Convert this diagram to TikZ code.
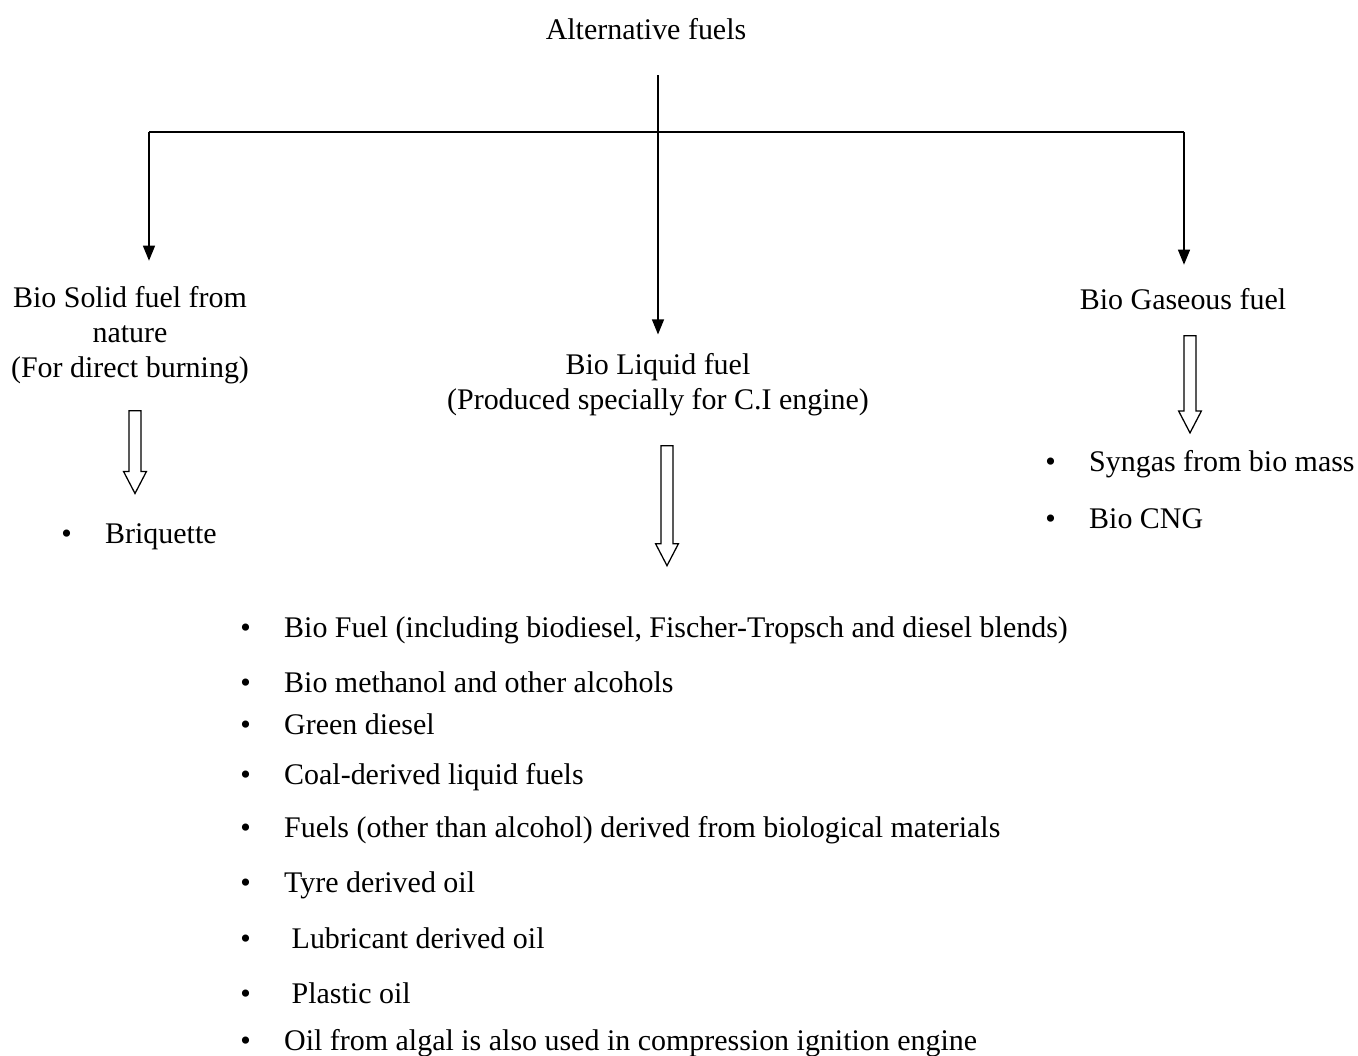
\documentclass[tikz,border=0pt]{standalone}
\usepackage{fontspec}
\setmainfont{Liberation Serif}
\usetikzlibrary{arrows.meta, shapes.arrows}
\newcommand{\itm}[1]{\makebox[0.73cm][l]{\textbullet}#1}
\def\trunkX{658}
\def\barY{132}

\begin{document}
\begin{tikzpicture}[
  x=0.01667cm, y=-0.01667cm,
  font=\fontsize{14.2}{16.5}\selectfont,
  cat/.style    = {align=center, inner sep=0pt},
  item/.style   = {anchor=west, inner sep=0pt},
  feed/.style   = {-{Triangle[length=2.5mm, width=2mm]}, semithick},
  hollow/.style = {draw, semithick, single arrow, rotate=-90, anchor=tail,
                   inner sep=0.09cm, single arrow head extend=0.09cm,
                   single arrow tip angle=55},
]
\useasboundingbox (0,0) rectangle (1358,1055);

% ---------- root and the three fuel groups ----------
\node[cat] (root)    at (646,29)  {Alternative fuels};
\node[cat] (solid)   at (130,335) {Bio Solid fuel from\\nature\\(For direct burning)};
\node[cat] (liquid)  at (658,385) {Bio Liquid fuel\\(Produced specially for C.I engine)};
\node[cat] (gaseous) at (1183,299) {Bio Gaseous fuel};

% ---------- branching connectors ----------
\coordinate (top)  at (\trunkX,75);
\coordinate (barL) at (149,\barY);
\coordinate (barR) at (1184,\barY);
\draw[semithick] (barL) -- (barR);
\draw[feed, shorten >=9pt]  (top) -- (top |- liquid.north);
\draw[feed, shorten >=12pt] (barL) -- (barL |- solid.north);
\draw[feed, shorten >=11pt] (barR) -- (barR |- gaseous.north);

% ---------- hollow arrows down to the lists ----------
\node[hollow, minimum height=1.38cm] (solidarr)   at (135,410)  {};
\node[hollow, minimum height=2.0cm]  (liquidarr)  at (667,445)  {};
\node[hollow, minimum height=1.62cm] (gaseousarr) at (1190,335) {};

% ---------- lists ----------
\node[item] (briq) at (61,537) {\itm{Briquette}};
\node[item] (syn)  at (1045,464) {\itm{Syngas from bio mass}};
\node[item] (cng)  at (1045,519) {\itm{Bio CNG}};

\foreach \y/\t [count=\i] in {
  630/{Bio Fuel (including biodiesel, Fischer-Tropsch and diesel blends)},
  682/{Bio methanol and other alcohols},
  724/{Green diesel},
  777/{Coal-derived liquid fuels},
  830/{Fuels (other than alcohol) derived from biological materials},
  885/{Tyre derived oil},
  938/{\ Lubricant derived oil},
  993/{\ Plastic oil},
  1043/{Oil from algal is also used in compression ignition engine}}{
  \node[item] (liq-\i) at (240,\y) {\itm{\t}};
}

\end{tikzpicture}
\end{document}
